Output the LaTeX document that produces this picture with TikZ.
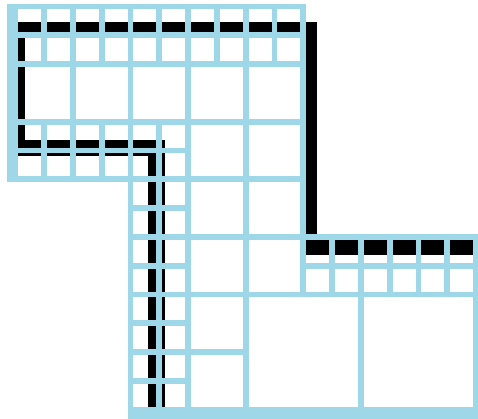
\documentclass[tikz,border=0pt]{standalone}
\definecolor{cellblue}{RGB}{158, 216, 232}
\usepackage{tikz}
\usetikzlibrary{positioning}

\tikzset{
  cellline/.style={draw=cellblue, line width=5.8pt},
  rim/.style={draw=cellblue, line width=5.8pt, line join=miter},
  cutline/.style={draw=black, line width=15pt, line join=miter},
  cutwide/.style={draw=black, line width=16.5pt, line join=miter},
}

\begin{document}
\begin{tikzpicture}[x=28.8pt, y=-28.8pt]
  \useasboundingbox[fill=white] (-0.53125,-0.22569) rectangle (16.066,14.2882);

  % black boundaries, under the grid
  \draw[cutline] (0.076,4.913) -- (0.076,0.80) -- (10.22,0.80) -- (10.22,8.37) -- (16.3,8.37);
  \draw[cutwide] (-0.2,4.913) -- (4.903,4.913) -- (4.903,14.1);

  % fine cells
  \foreach \i in {0,...,9} \foreach \j in {0,1}
    \draw[cellline] (\i,\j) rectangle ++(1,1);
  \foreach \i in {0,...,5} \foreach \j in {4,5}
    \draw[cellline] (\i,\j) rectangle ++(1,1);
  \foreach \i in {4,5} \foreach \j in {6,...,13}
    \draw[cellline] (\i,\j) rectangle ++(1,1);
  \foreach \i in {10,...,15} \foreach \j in {8,9}
    \draw[cellline] (\i,\j) rectangle ++(1,1);

  % coarse cells
  \foreach \i in {0,2,...,8}
    \draw[cellline] (\i,2) rectangle ++(2,2);
  \foreach \i in {6,8}
    \draw[cellline] (\i,4) rectangle ++(2,2);
  \foreach \j in {6,8,10,12}
    \draw[cellline] (6,\j) rectangle ++(2,2);
  \foreach \j in {6,8}
    \draw[cellline] (8,\j) rectangle ++(2,2);
  \foreach \i in {8,12}
    \draw[cellline] (\i,10) rectangle ++(4,4);

  % outer rim
  \draw[rim] (0,0) -| (10,8) -| (16,14) -| (4,6) -| (0,0) -- cycle;
  \fill[cellblue] (-0.288,-0.1) rectangle (0,6.1);
  \fill[cellblue] (3.9,14) rectangle (16.3,14.4);
\end{tikzpicture}
\end{document}
